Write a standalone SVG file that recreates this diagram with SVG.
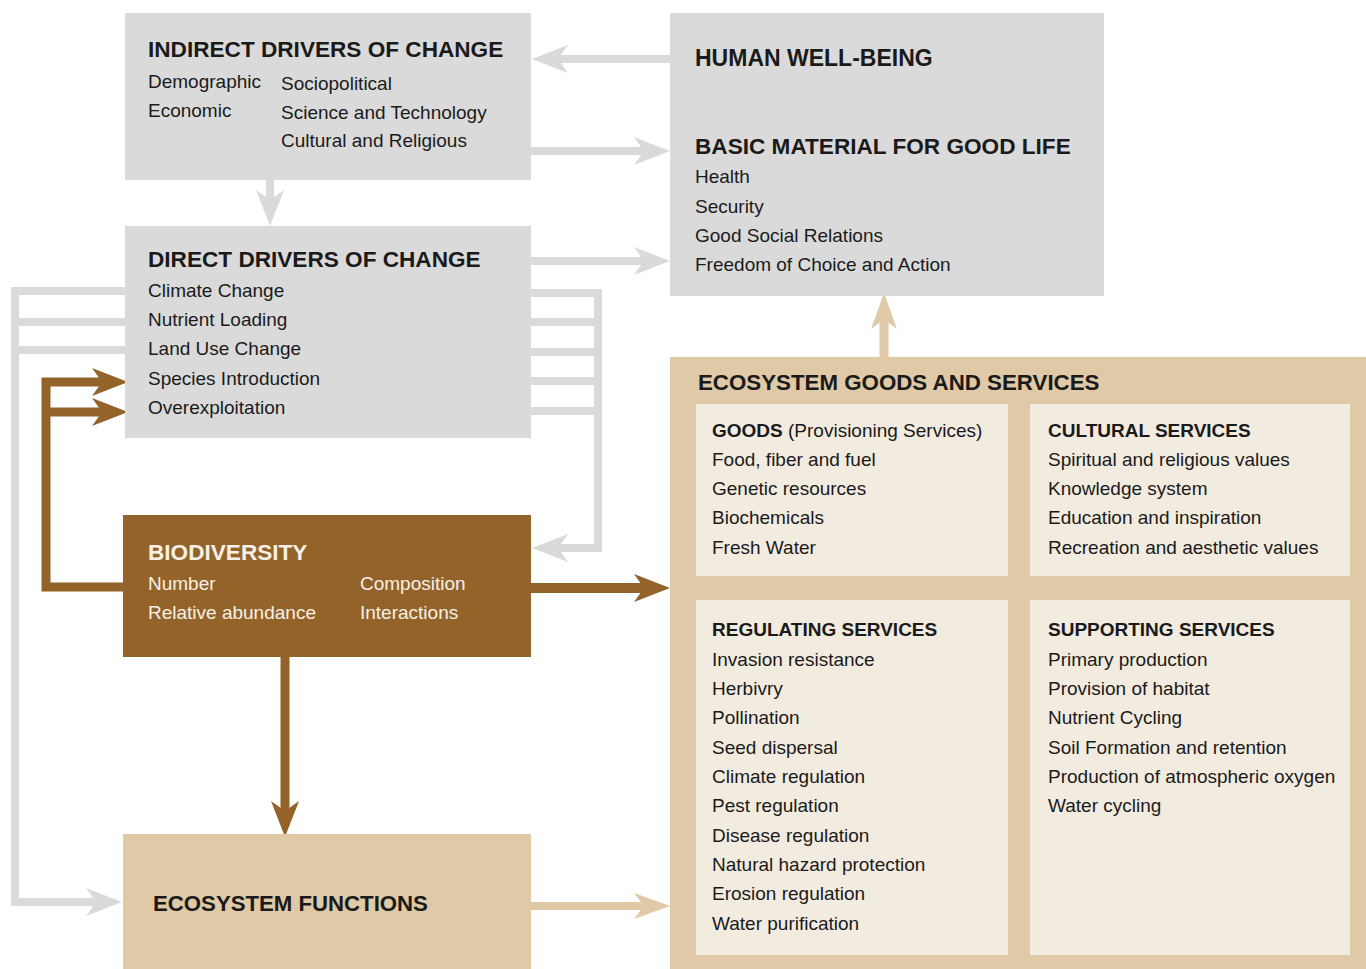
<svg xmlns="http://www.w3.org/2000/svg" width="1366" height="969" viewBox="0 0 1366 969">
<style>
text{font-family:"Liberation Sans",Arial,sans-serif;fill:#1a1a1a}
.t{font-size:22.6px;font-weight:bold}
.st{font-size:19px;font-weight:bold}
.b{font-size:19px}
.w{fill:#f6f0e6}
.gray{fill:#dadada}
.brown{fill:#94632a}
.tan{fill:#dfc9a7}
.lite{fill:#f2ebe0}
.cg{fill:none;stroke:#dadada;stroke-width:8;stroke-linejoin:miter}
.cb{fill:none;stroke:#94632a;stroke-width:9;stroke-linejoin:miter}
.ct{fill:none;stroke:#dfc9a7;stroke-width:9}
</style>
<defs>
<marker id="hg" markerUnits="userSpaceOnUse" viewBox="-24 -15 40 30" markerWidth="40" markerHeight="30" refX="0" refY="0" orient="auto" overflow="visible"><path d="M14,0 L-22,-14 L-12,0 L-22,14 Z" fill="#dadada"/></marker>
<marker id="hb" markerUnits="userSpaceOnUse" viewBox="-24 -15 40 30" markerWidth="40" markerHeight="30" refX="0" refY="0" orient="auto" overflow="visible"><path d="M14,0 L-22,-14 L-12,0 L-22,14 Z" fill="#94632a"/></marker>
<marker id="ht" markerUnits="userSpaceOnUse" viewBox="-24 -15 40 30" markerWidth="40" markerHeight="30" refX="0" refY="0" orient="auto" overflow="visible"><path d="M14,0 L-22,-13 L-12,0 L-22,13 Z" fill="#dfc9a7"/></marker>
</defs>

<g id="connectors">
<path class="cg" d="M670,59 H546" marker-end="url(#hg)"/>
<path class="cg" d="M531,151 H656" marker-end="url(#hg)"/>
<path class="cg" d="M270,180 V212" marker-end="url(#hg)"/>
<path class="cg" d="M531,261 H656" marker-end="url(#hg)"/>
<path class="cg" d="M125,291 H15 V902 H108" marker-end="url(#hg)"/>
<path class="cg" d="M15,322 H125 M15,350 H125"/>
<path class="cg" d="M531,293 H598 V548 H546" marker-end="url(#hg)"/>
<path class="cg" d="M531,322 H598 M531,352 H598 M531,381 H598 M531,411 H598"/>
<path class="cb" d="M123,587 H46 V382 H114" marker-end="url(#hb)"/>
<path class="cb" d="M46,412 H114" marker-end="url(#hb)"/>
<path class="cb" d="M531,588 H656" style="stroke-width:10" marker-end="url(#hb)"/>
<path class="cb" d="M285,657 V823" marker-end="url(#hb)"/>
<path class="ct" d="M884,357 V307" marker-end="url(#ht)"/>
<path class="ct" d="M531,906 H656" style="stroke-width:8" marker-end="url(#ht)"/>
</g>

<g id="indirect-drivers">
<rect class="gray" x="125" y="13" width="406" height="167"/>
<text class="t" x="148" y="57">INDIRECT DRIVERS OF CHANGE</text>
<text class="b" x="148" y="88">Demographic</text>
<text class="b" x="148" y="117">Economic</text>
<text class="b" x="281" y="90">Sociopolitical</text>
<text class="b" x="281" y="119">Science and Technology</text>
<text class="b" x="281" y="147">Cultural and Religious</text>
</g>

<g id="human-well-being">
<rect class="gray" x="670" y="13" width="434" height="283"/>
<text class="t" x="695" y="66" style="font-size:23px">HUMAN WELL-BEING</text>
<text class="t" x="695" y="154">BASIC MATERIAL FOR GOOD LIFE</text>
<text class="b" x="695" y="183">Health</text>
<text class="b" x="695" y="213">Security</text>
<text class="b" x="695" y="242">Good Social Relations</text>
<text class="b" x="695" y="271">Freedom of Choice and Action</text>
</g>

<g id="direct-drivers">
<rect class="gray" x="125" y="226" width="406" height="212"/>
<text class="t" x="148" y="267">DIRECT DRIVERS OF CHANGE</text>
<text class="b" x="148" y="297">Climate Change</text>
<text class="b" x="148" y="326">Nutrient Loading</text>
<text class="b" x="148" y="355">Land Use Change</text>
<text class="b" x="148" y="385">Species Introduction</text>
<text class="b" x="148" y="414">Overexploitation</text>
</g>

<g id="biodiversity">
<rect class="brown" x="123" y="515" width="408" height="142"/>
<text class="t w" x="148" y="560">BIODIVERSITY</text>
<text class="b w" x="148" y="590">Number</text>
<text class="b w" x="148" y="619">Relative abundance</text>
<text class="b w" x="360" y="590">Composition</text>
<text class="b w" x="360" y="619">Interactions</text>
</g>

<g id="ecosystem-functions">
<rect class="tan" x="123" y="834" width="408" height="135"/>
<text class="t" x="153" y="911" style="font-size:22.2px">ECOSYSTEM FUNCTIONS</text>
</g>

<g id="ecosystem-goods-services">
<rect class="tan" x="670" y="357" width="696" height="612"/>
<text class="t" x="698" y="390" style="font-size:22.3px">ECOSYSTEM GOODS AND SERVICES</text>
</g>

<g id="goods">
<rect class="lite" x="696" y="404" width="312" height="172"/>
<text class="b" x="712" y="437"><tspan font-weight="bold">GOODS</tspan> (Provisioning Services)</text>
<text class="b" x="712" y="466">Food, fiber and fuel</text>
<text class="b" x="712" y="495">Genetic resources</text>
<text class="b" x="712" y="524">Biochemicals</text>
<text class="b" x="712" y="554">Fresh Water</text>
</g>

<g id="cultural-services">
<rect class="lite" x="1030" y="404" width="320" height="172"/>
<text class="st" x="1048" y="437">CULTURAL SERVICES</text>
<text class="b" x="1048" y="466">Spiritual and religious values</text>
<text class="b" x="1048" y="495">Knowledge system</text>
<text class="b" x="1048" y="524">Education and inspiration</text>
<text class="b" x="1048" y="554">Recreation and aesthetic values</text>
</g>

<g id="regulating-services">
<rect class="lite" x="696" y="600" width="312" height="355"/>
<text class="st" x="712" y="636">REGULATING SERVICES</text>
<text class="b" x="712" y="666">Invasion resistance</text>
<text class="b" x="712" y="695">Herbivry</text>
<text class="b" x="712" y="724">Pollination</text>
<text class="b" x="712" y="754">Seed dispersal</text>
<text class="b" x="712" y="783">Climate regulation</text>
<text class="b" x="712" y="812">Pest regulation</text>
<text class="b" x="712" y="842">Disease regulation</text>
<text class="b" x="712" y="871">Natural hazard protection</text>
<text class="b" x="712" y="900">Erosion regulation</text>
<text class="b" x="712" y="930">Water purification</text>
</g>

<g id="supporting-services">
<rect class="lite" x="1030" y="600" width="320" height="355"/>
<text class="st" x="1048" y="636">SUPPORTING SERVICES</text>
<text class="b" x="1048" y="666">Primary production</text>
<text class="b" x="1048" y="695">Provision of habitat</text>
<text class="b" x="1048" y="724">Nutrient Cycling</text>
<text class="b" x="1048" y="754">Soil Formation and retention</text>
<text class="b" x="1048" y="783">Production of atmospheric oxygen</text>
<text class="b" x="1048" y="812">Water cycling</text>
</g>
</svg>
